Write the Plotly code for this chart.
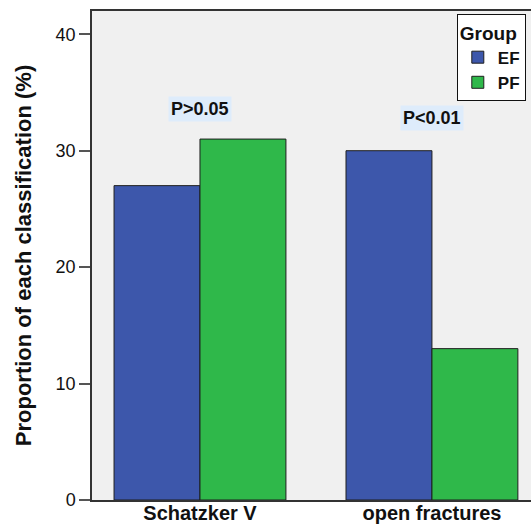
import plotly.graph_objects as go

categories = ["Schatzker V", "open fractures"]
groups = ["EF", "PF"]
ef_values = [27, 30]
pf_values = [31, 13]
p_labels = ["P>0.05", "P<0.01"]
p_label_y = [33.6, 32.8]

colors = {"EF": "#3d57ab", "PF": "#2fb84a"}
FONT = "Liberation Sans, Arial, sans-serif"

fig = go.Figure()
for name, vals in zip(groups, [ef_values, pf_values]):
    fig.add_trace(go.Bar(
        x=list(range(len(categories))), y=vals, name=f"<b>{name}</b>",
        marker=dict(color=colors[name], line=dict(color="#1e1e1e", width=1)),
    ))

for i, (lab, yy) in enumerate(zip(p_labels, p_label_y)):
    fig.add_annotation(
        x=i, y=yy, text=f"<b>{lab}</b>", showarrow=False,
        font=dict(family=FONT, size=18, color="#111111"),
        bgcolor="#deecfb", borderpad=2,
    )

fig.update_layout(
    width=531, height=527,
    margin=dict(l=92, r=0, t=11, b=27),
    paper_bgcolor="white", plot_bgcolor="#f0f0f0",
    barmode="group", bargap=0.259, bargroupgap=0,
    font=dict(family=FONT, color="#111111"),
    legend=dict(
        x=0.831, y=0.994, xanchor="left", yanchor="top",
        bgcolor="white", bordercolor="#111111", borderwidth=1,
        title=dict(text="<b>Group</b>", font=dict(family=FONT, size=19)),
        font=dict(family=FONT, size=17), traceorder="normal",
        itemwidth=30, itemclick=False,
    ),
    xaxis=dict(
        range=[-0.4655, 1.427], tickvals=list(range(len(categories))),
        ticktext=[f"<b>{c}</b>" for c in categories],
        tickfont=dict(family=FONT, size=20, color="#111111"),
        showline=True, linecolor="#333333", linewidth=1.5, mirror=True,
        ticks="", showgrid=False, zeroline=False, automargin=False,
        ticklabelstandoff=-6,
    ),
    yaxis=dict(
        range=[0, 42], tickvals=[0, 10, 20, 30, 40],
        tickfont=dict(family=FONT, size=18, color="#111111"),
        ticks="outside", ticklen=11, tickwidth=2, tickcolor="#555555",
        showline=True, linecolor="#333333", linewidth=1.5,
        showgrid=False, zeroline=False, automargin=False,
        title=dict(text="<b>Proportion of each classification (%)</b>",
                   font=dict(family=FONT, size=22), standoff=18),
    ),
)

fig.write_html("out.html")
